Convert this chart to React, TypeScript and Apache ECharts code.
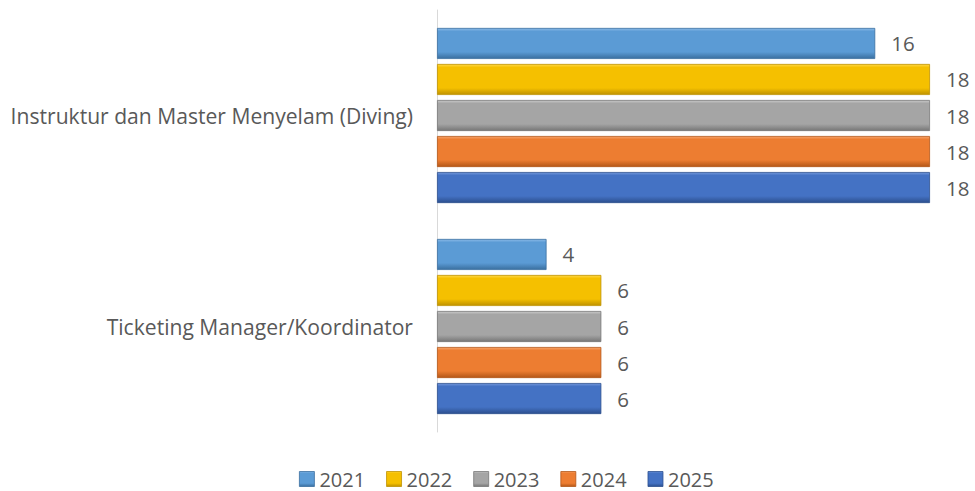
import React, { useEffect, useRef } from "react";
import * as echarts from "echarts";

const categories = ["Instruktur dan Master Menyelam (Diving)", "Ticketing Manager/Koordinator"];
const seriesNames = ["2021", "2022", "2023", "2024", "2025"];
const values2021 = [16, 4];
const values2022 = [18, 6];
const values2023 = [18, 6];
const values2024 = [18, 6];
const values2025 = [18, 6];
const allValues = [values2021, values2022, values2023, values2024, values2025];

const baseColors = [
  ["#8cbbe8", "#5b9bd5", "#3a6f9f"],
  ["#ffd84a", "#f5c000", "#bf9200"],
  ["#cacaca", "#a5a5a5", "#777777"],
  ["#f7a56d", "#ed7d31", "#b45718"],
  ["#7397da", "#4472c4", "#2c4f8e"],
];

function grad(c: string[]) {
  return new echarts.graphic.LinearGradient(0, 0, 0, 1, [
    { offset: 0, color: c[0] },
    { offset: 0.1, color: c[1] },
    { offset: 0.78, color: c[1] },
    { offset: 1, color: c[2] },
  ]);
}

export default function App() {
  const ref = useRef<HTMLDivElement>(null);
  useEffect(() => {
    document.body.style.margin = "0";
    if (!ref.current) return;
    const chart = echarts.init(ref.current, null, { renderer: "svg" });
    const font = "Open Sans";
    chart.setOption({
      animation: false,
      textStyle: { fontFamily: font },
      grid: { left: 437, right: 45, top: 10, bottom: 59 },
      legend: {
        top: 469,
        left: 299,
        padding: 0,
        icon: "rect",
        itemWidth: 15,
        itemHeight: 15,
        itemGap: 21,
        textStyle: { color: "#595959", fontSize: 20, lineHeight: 16, fontFamily: font },
        data: seriesNames.map((n, i) => ({
          name: n,
          itemStyle: { color: grad(baseColors[i]), borderColor: baseColors[i][2], borderWidth: 0.8 },
        })),
      },
      xAxis: {
        type: "value",
        min: 0,
        max: 18,
        show: false,
        splitLine: { show: false },
      },
      yAxis: {
        type: "category",
        inverse: true,
        data: categories,
        axisLine: { show: true, lineStyle: { color: "#d9d9d9", width: 1 } },
        axisTick: { show: false },
        axisLabel: { color: "#595959", fontSize: 21.1, fontFamily: font, margin: 24 },
      },
      series: seriesNames.map((n, i) => ({
        name: n,
        type: "bar",
        data: allValues[i],
        barCategoryGap: "17%",
        barGap: "16%",
        itemStyle: {
          color: grad(baseColors[i]),
          borderColor: baseColors[i][2],
          borderWidth: 0.8,
        },
        label: {
          show: true,
          position: "right",
          distance: 16,
          color: "#595959",
          fontSize: 20.5,
          fontFamily: font,
        },
      })),
    });
    return () => chart.dispose();
  }, []);
  return <div ref={ref} style={{ width: 975, height: 491 }} />;
}
